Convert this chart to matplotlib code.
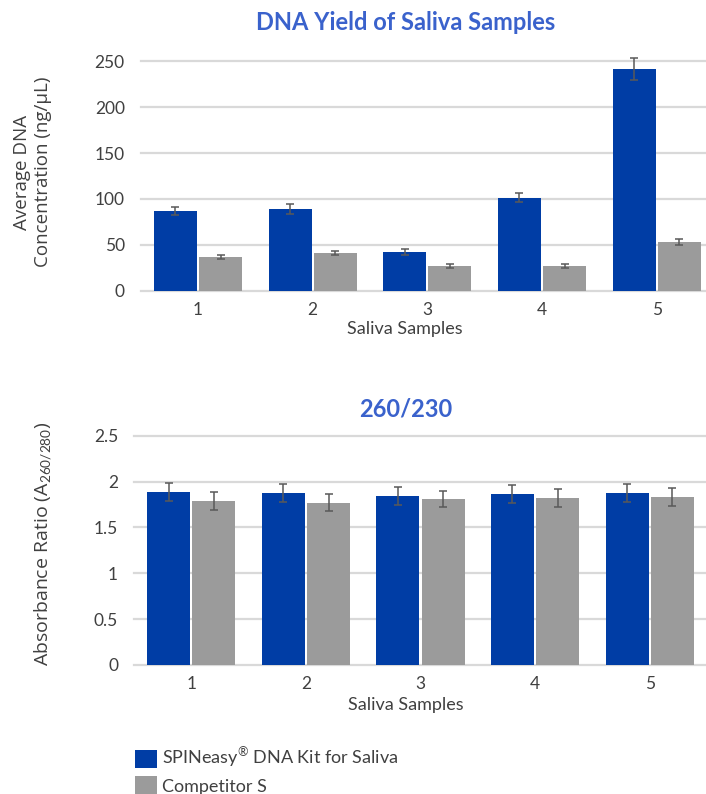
import numpy as np
import matplotlib
matplotlib.use("Agg")
import matplotlib.pyplot as plt
from matplotlib.patches import Patch

# data
samples = ["1", "2", "3", "4", "5"]
yield_kit = [87, 89, 42.5, 101.5, 241.5]
yield_kit_err = [4.4, 5.6, 3.0, 5.2, 12.0]
yield_comp = [36.5, 41.5, 27.5, 27.5, 53.5]
yield_comp_err = [2.2, 2.2, 2.0, 2.0, 3.0]

ratio_kit = [1.885, 1.875, 1.84, 1.865, 1.875]
ratio_kit_err = [0.095, 0.098, 0.096, 0.095, 0.098]
ratio_comp = [1.79, 1.77, 1.81, 1.82, 1.83]
ratio_comp_err = [0.095, 0.09, 0.09, 0.095, 0.095]

legend_labels = ["SPINeasy$^{\\mathrm{\u00ae}}$ DNA Kit for Saliva", "Competitor S"]

BLUE = "#003da5"
GRAY = "#9b9b9b"
TITLE_BLUE = "#3a62cc"
TEXT = "#404040"
GRID = "#d9d9d9"
ERR = "#595959"

plt.rcParams["font.family"] = ["Lato", "DejaVu Sans"]
plt.rcParams["mathtext.fontset"] = "custom"
plt.rcParams["mathtext.rm"] = "Lato"
plt.rcParams["mathtext.it"] = "Open Sans:italic"

W, H = 706, 794
fig = plt.figure(figsize=(W / 100, H / 100), dpi=100)


def px_axes(left, right, top, bottom):
    return fig.add_axes([left / W, 1 - bottom / H, (right - left) / W, (bottom - top) / H])


def draw_bars(ax, a, a_err, b, b_err):
    x = np.arange(len(samples))
    bw = 0.375
    off = bw / 2 + 0.01
    ekw = dict(ecolor=ERR, elinewidth=1.1, capsize=3, capthick=1.1)
    ax.bar(x - off, a, bw, color=BLUE, yerr=a_err, error_kw=ekw, zorder=2)
    ax.bar(x + off, b, bw, color=GRAY, yerr=b_err, error_kw=ekw, zorder=2)
    ax.set_xlim(-0.5, len(samples) - 0.5)
    ax.set_xticks(x)
    ax.set_xticklabels(samples)
    for s in ax.spines.values():
        s.set_visible(False)
    ax.tick_params(length=0, labelsize=12.5, colors=TEXT)
    ax.tick_params(axis="y", pad=11.5)
    ax.tick_params(axis="x", pad=6.5)
    ax.yaxis.grid(True, color=GRID, linewidth=1.6, zorder=0)
    ax.set_axisbelow(True)
    for line in ax.get_ygridlines():
        line.set_clip_on(False)


# top chart: DNA yield
ax1 = px_axes(140.7, 714, 59.2, 292.8)
draw_bars(ax1, yield_kit, yield_kit_err, yield_comp, yield_comp_err)
ax1.set_ylim(-2, 252)
ax1.set_yticks([0, 50, 100, 150, 200, 250])
for art in ax1.get_children():
    try:
        art.set_clip_on(False)
    except Exception:
        pass
ax1.set_xlabel("Saliva Samples", fontsize=13, color=TEXT)
ax1.xaxis.set_label_coords((405 - 140.7) / 573.3, -(329 - 292.8) / 233.6, transform=ax1.transAxes)
ax1.xaxis.label.set_va("center")
fig.text(406 / W, 1 - 23 / H, "DNA Yield of Saliva Samples", ha="center", va="center",
         fontsize=17, fontweight="bold", color=TITLE_BLUE)
fig.text(32.5 / W, 1 - 172 / H, "Average DNA\nConcentration (ng/\u00b5L)", rotation=90,
         ha="center", va="center", multialignment="center", fontsize=13.5,
         color=TEXT, family=["Open Sans", "DejaVu Sans"], linespacing=1.22)

# bottom chart: 260/230 ratio
ax2 = px_axes(134, 707, 433.9, 666.8)
draw_bars(ax2, ratio_kit, ratio_kit_err, ratio_comp, ratio_comp_err)
ax2.set_ylim(-0.02, 2.52)
ax2.set_yticks([0, 0.5, 1, 1.5, 2, 2.5])
ax2.set_yticklabels(["0", "0.5", "1", "1.5", "2", "2.5"])
ax2.set_xlabel("Saliva Samples", fontsize=13, color=TEXT)
ax2.xaxis.set_label_coords((406 - 134) / 573, -(705 - 666.8) / 232.9, transform=ax2.transAxes)
ax2.xaxis.label.set_va("center")
fig.text(406 / W, 1 - 409 / H, "260/230", ha="center", va="center",
         fontsize=17, fontweight="bold", color=TITLE_BLUE)
fig.text(43 / W, 1 - 544 / H, r"Absorbance Ratio (A$_{\mathit{260/280}}$)", rotation=90,
         ha="center", va="center", fontsize=14, color=TEXT,
         family=["Open Sans", "DejaVu Sans"])

handles = [Patch(facecolor=BLUE, edgecolor="none"), Patch(facecolor=GRAY, edgecolor="none")]
leg = fig.legend(handles, legend_labels, loc="upper left", bbox_to_anchor=(135 / W, 1 - 746 / H),
                 frameon=False, fontsize=13, handlelength=1.22, handleheight=1.22,
                 handletextpad=0.3, labelspacing=0.35, borderpad=0, borderaxespad=0)
for t in leg.get_texts():
    t.set_color(TEXT)

fig.savefig("out.png", dpi=100)
